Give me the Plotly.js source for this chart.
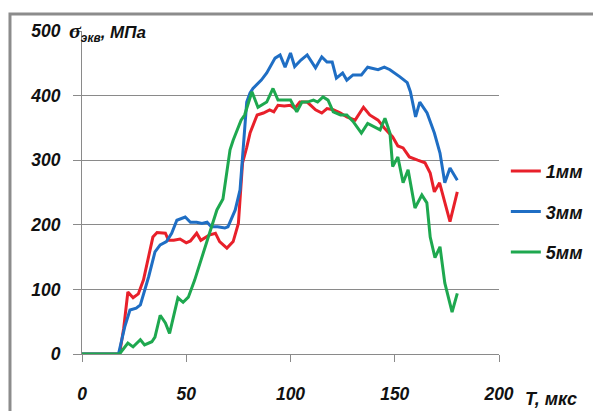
<!DOCTYPE html>
<html>
<head>
<meta charset="utf-8">
<script src="https://cdn.plot.ly/plotly-3.0.1.min.js"></script>
<style>html,body{margin:0;padding:0;background:#fff;}#chart{width:593px;height:411px;}</style>
</head>
<body>
<div id="chart"></div>
<script>
// Series 1 mm (red)
const t1 = [0, 18, 20, 22, 24.5, 27, 29.5, 32, 34, 36, 40, 41.5, 44, 47, 50, 52, 55, 57, 59, 61, 64, 66, 69.5, 72.5, 75, 77, 79, 80.6, 84, 87, 90, 92, 94, 97, 100, 102, 104.5, 108, 110, 112, 115, 117.5, 120.5, 124, 127, 131, 135, 138, 142, 145, 149, 151.5, 154, 157, 161, 164.5, 167, 169, 171.5, 174, 176.5, 180];
const v1 = [0, 0, 40, 96, 87, 93, 115, 150, 181, 188, 187, 176, 176, 178, 172, 175, 187, 176, 180, 184, 187, 174, 164, 174, 202, 296, 320, 342, 370, 373, 378, 375, 385, 384, 385, 380, 390, 390, 384, 378, 373, 380, 378, 373, 367, 362, 382, 370, 362, 350, 336, 322, 319, 305, 300, 296, 280, 251, 265, 234, 205, 251];
// Series 3 mm (blue)
const t3 = [0, 17.5, 20.5, 23, 26, 28, 32, 35, 37.5, 40.5, 43, 45.5, 49.5, 52, 55, 57.5, 60, 62, 65, 68.5, 70, 73.5, 75.8, 77, 79, 80.6, 82, 86, 88.6, 92.6, 95, 97.4, 100, 102, 105, 108, 112, 115, 117.5, 120, 122, 125, 127, 130, 134, 137, 142, 145, 147.7, 152.5, 156, 157.5, 160, 162, 165.5, 169, 171.7, 174, 176.5, 180];
const v3 = [0, 0, 42, 68, 71, 76, 120, 158, 169, 174, 187, 207, 212, 204, 204, 202, 204, 197, 197, 195, 197, 223, 254, 311, 390, 404, 411, 424, 435, 458, 463, 444, 466, 445, 455, 463, 443, 460, 452, 452, 427, 435, 424, 432, 432, 444, 440, 444, 440, 429, 420, 406, 367, 390, 373, 342, 311, 265, 288, 269];
// Series 5 mm (green)
const t5 = [0, 18, 22, 24.5, 28, 30, 33.5, 35, 37.5, 40, 42, 44.6, 46, 48.5, 51, 54, 58, 61.4, 64.7, 67.6, 71, 72.5, 76.3, 78, 81.5, 84.4, 88.6, 91.6, 94, 97.4, 100, 103, 105.5, 108, 111, 113, 115.6, 118, 120.5, 124, 127, 130, 132, 134, 137, 140.5, 143, 145.3, 147.7, 149, 151.5, 154, 156.4, 159.7, 163, 165.4, 167, 169.3, 171.7, 174, 177.5, 180];
const v5 = [0, 0, 17, 11, 22, 14, 19, 26, 60, 48, 32, 71, 87, 80, 88, 114, 156, 192, 223, 240, 316, 331, 362, 370, 406, 382, 390, 411, 393, 393, 393, 375, 390, 390, 393, 390, 398, 393, 375, 370, 370, 360, 350, 342, 357, 351, 347, 365, 342, 290, 305, 265, 285, 226, 246, 234, 181, 149, 166, 110, 65, 94];

const names = ['1мм', '3мм', '5мм'];
const colors = ['#e8202a', '#1f6ec4', '#1ea84f'];
const xTicks = [0, 50, 100, 150, 200];
const yTicks = [0, 100, 200, 300, 400, 500];

const FAM = 'Liberation Sans, Arial, sans-serif';
const tickFont = {family: FAM, size: 17.5, color: '#111', style: 'italic', weight: 'bold'};

const series = [[t1, v1], [t3, v3], [t5, v5]];
const data = series.map((s, i) => ({
  x: s[0], y: s[1], type: 'scatter', mode: 'lines', name: names[i],
  legendgroup: 'g' + i,
  line: {color: colors[i], width: 3}
}));

const layout = {
  width: 593, height: 411,
  margin: {l: 82, r: 94, t: 31, b: 57, autoexpand: false},
  paper_bgcolor: '#fff', plot_bgcolor: '#fff',
  showlegend: true,
  legend: {xref: 'container', yref: 'container', x: 0.853, xanchor: 'left', y: 0.628, yanchor: 'top', tracegroupgap: 14,
    font: {family: FAM, size: 18, color: '#111', style: 'italic', weight: 'bold'},
    bgcolor: 'rgba(0,0,0,0)'},
  xaxis: {range: [0, 200], tickvals: xTicks, ticktext: xTicks.map(String), showgrid: false, zeroline: false,
    showline: true, linecolor: '#8a8a8a', linewidth: 1, ticks: 'outside', ticklen: 7, tickcolor: '#8a8a8a',
    tickfont: tickFont, ticklabelstandoff: 17, fixedrange: true, automargin: false},
  yaxis: {range: [0, 500], tickvals: yTicks, ticktext: yTicks.map(String), showgrid: true, gridcolor: '#8a8a8a', gridwidth: 1,
    zeroline: false, showline: true, linecolor: '#8a8a8a', linewidth: 1, ticks: 'outside', ticklen: 8, tickcolor: '#8a8a8a',
    tickfont: tickFont, ticklabelstandoff: 9, fixedrange: true, automargin: false},
  shapes: [{type: 'rect', xref: 'paper', yref: 'paper', x0: -0.1727, x1: 1.25, y0: -0.25, y1: 1.0526,
    line: {color: '#8c8c8c', width: 3}, layer: 'below'}],
  annotations: [
    {xref: 'paper', yref: 'paper', x: -0.037, y: 1.0, xanchor: 'left', yanchor: 'middle', showarrow: false,
     text: '<span style="font-family:Liberation Serif;font-size:22px">σ</span><sub>экв</sub>, МПа',
     font: {family: FAM, size: 17, color: '#111', style: 'italic', weight: 'bold'}},
    {xref: 'paper', yref: 'paper', x: 1.058, y: -0.14, xanchor: 'left', yanchor: 'middle', showarrow: false,
     text: 'T, мкс',
     font: {family: FAM, size: 18, color: '#111', style: 'italic', weight: 'bold'}}
  ]
};

Plotly.newPlot('chart', data, layout, {displayModeBar: false, staticPlot: true});
</script>
</body>
</html>
